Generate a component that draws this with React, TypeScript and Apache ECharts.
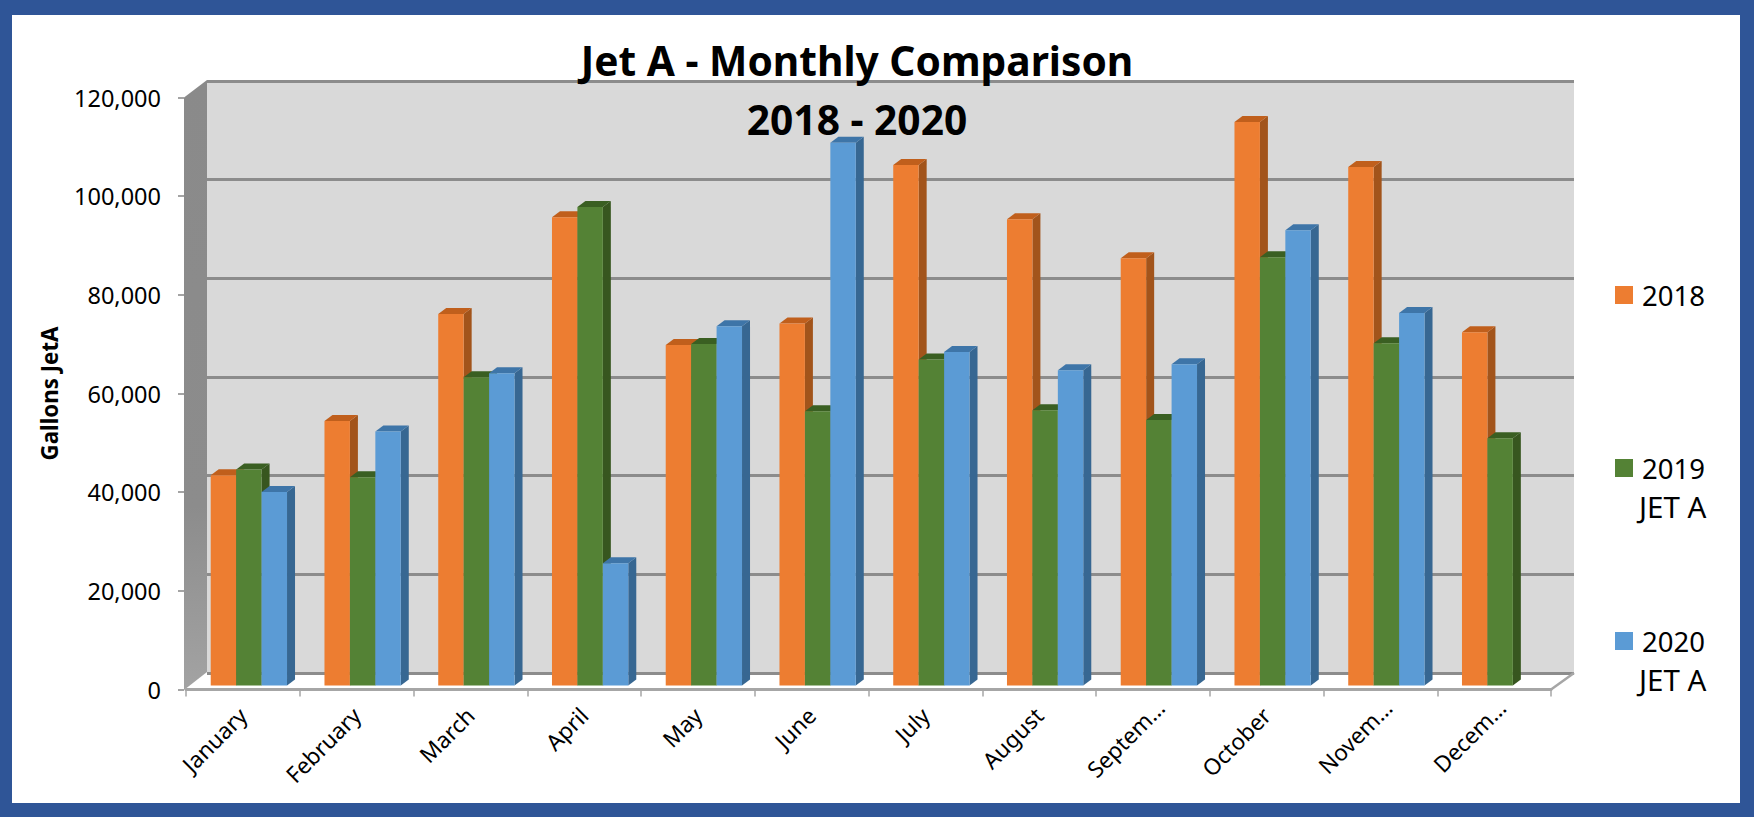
import React, { useEffect, useRef } from "react";
import * as echarts from "echarts";

const months = ["January", "February", "March", "April", "May", "June", "July", "August", "Septem…", "October", "Novem…", "Decem…"];
const truncated = ["Septem…", "Novem…", "Decem…"];
const jet2018 = [42600, 53600, 75300, 94900, 69000, 73400, 105500, 94500, 86600, 114200, 105100, 71600];
const jet2019 = [43800, 42200, 62500, 97000, 69200, 55600, 66100, 55800, 53800, 86800, 69400, 50100];
const jet2020 = [39200, 51500, 63300, 24800, 72800, 110000, 67600, 63900, 65100, 92300, 75500, null];
const yTicks = [0, 20000, 40000, 60000, 80000, 100000, 120000];

const FONT = "'Noto Sans', sans-serif";
const BLUE_FRAME = "#2f5597";
const GRID_LINE = "#8c8c8c";
const AXIS_GREY = "#a6a6a6";

const barSeries = (
  name: string,
  values: (number | null)[],
  index: number,
  front: string,
  side: string,
  top: string
) => ({
  type: "custom",
  name,
  xAxisIndex: 0,
  yAxisIndex: 0,
  z: 3 + index,
  silent: true,
  clip: false,
  itemStyle: { color: front },
  encode: { x: 0, y: 1 },
  data: values.map((v, i) => [i, v]).filter((d) => d[1] !== null),
  renderItem: (_p: any, api: any) => {
    const band = api.size([1, 0])[0];
    const base = api.coord([api.value(0), 0]);
    const tip = api.coord([api.value(0), api.value(1)]);
    const w = band * 0.2236;
    const dx = 8;
    const dy = 6;
    const planeX = 6;
    const planeY = -4;
    const x0 = base[0] + planeX + (index - 1.5) * w;
    const x1 = x0 + w;
    const yB = base[1] + planeY;
    const yT = tip[1] + planeY;
    return {
      type: "group",
      children: [
        { type: "polygon", shape: { points: [[x1, yB], [x1 + dx, yB - dy], [x1 + dx, yT - dy], [x1, yT]] }, style: { fill: side } },
        { type: "polygon", shape: { points: [[x0, yT], [x1, yT], [x1 + dx, yT - dy], [x0 + dx, yT - dy]] }, style: { fill: top } },
        { type: "rect", shape: { x: x0, y: yT, width: w, height: yB - yT }, style: { fill: front } },
      ],
    };
  },
});

export default function App() {
  const ref = useRef<HTMLDivElement>(null);
  useEffect(() => {
    const chart = echarts.init(ref.current!, undefined, { renderer: "svg" });
    chart.setOption({
      animation: false,
      backgroundColor: BLUE_FRAME,
      textStyle: { fontFamily: FONT },
      title: {
        text: "Jet A - Monthly Comparison\n2018 - 2020",
        left: 852,
        top: 25,
        textAlign: "center",
        z: 20,
        textStyle: { fontFamily: FONT, fontSize: 40.7, fontWeight: "bold", color: "#000", lineHeight: 59 },
      },
      legend: {
        orient: "vertical",
        left: 1615,
        top: 277,
        padding: 0,
        itemWidth: 18,
        itemHeight: 18,
        itemGap: 137,
        icon: "rect",
        data: ["2018", "2019", "2020"],
        textStyle: { fontFamily: FONT, fontSize: 27.5, color: "#000", lineHeight: 30, padding: [0, 0, 6, 4] },
      },
      graphic: [
        { type: "rect", z: -100, silent: true, shape: { x: 12, y: 15, width: 1728, height: 788 }, style: { fill: "#fff" } },
        {
          type: "polygon",
          z: -50,
          silent: true,
          shape: { points: [[184, 97.5], [207, 80], [207, 672], [184, 690]] },
          style: {
            fill: new echarts.graphic.LinearGradient(0, 0, 0, 1, [
              { offset: 0, color: "#8a8a8a" },
              { offset: 0.7, color: "#8c8c8c" },
              { offset: 1, color: "#a3a3a3" },
            ]),
          },
        },
        { type: "line", z: 1, silent: true, shape: { x1: 1551, y1: 689.5, x2: 1574, y2: 673 }, style: { stroke: AXIS_GREY, lineWidth: 2.5 } },
        { type: "text", z: 20, silent: true, x: 1639, y: 506, style: { text: "JET A", font: `29.5px ${FONT}`, fill: "#000", verticalAlign: "middle" } },
        { type: "text", z: 20, silent: true, x: 1639, y: 679, style: { text: "JET A", font: `29.5px ${FONT}`, fill: "#000", verticalAlign: "middle" } },
      ],
      grid: [
        { left: 186, right: 203, top: 97.5, bottom: 127.5, z: 2 },
        { left: 207, right: 180, top: 81, bottom: 144, show: true, backgroundColor: "#d9d9d9", borderWidth: 0, z: 0 },
      ],
      xAxis: [
        {
          type: "category",
          gridIndex: 0,
          data: months.map((m) =>
            truncated.includes(m) ? { value: m, textStyle: { padding: [20, -11, 0, 0] } } : m
          ),
          boundaryGap: true,
          axisLine: { show: true, lineStyle: { color: AXIS_GREY, width: 3 } },
          axisTick: { show: true, alignWithLabel: false, length: 7, lineStyle: { color: AXIS_GREY, width: 1.5 } },
          axisLabel: { interval: 0, rotate: 45, fontFamily: FONT, fontSize: 22.5, color: "#000", margin: 22, hideOverlap: false },
          splitLine: { show: false },
        },
        { type: "category", gridIndex: 1, data: months, show: false },
      ],
      yAxis: [
        {
          type: "value",
          gridIndex: 0,
          min: 0,
          max: 120000,
          interval: 20000,
          offset: 2,
          name: "Gallons JetA",
          nameLocation: "middle",
          nameGap: 124,
          nameTextStyle: { fontFamily: FONT, fontSize: 22.3, fontWeight: "bold", color: "#000" },
          axisLine: { show: false },
          axisTick: { show: true, length: 6, lineStyle: { color: "#868686", width: 1.5 } },
          axisLabel: {
            fontFamily: FONT,
            fontSize: 23.5,
            color: "#000",
            margin: 23,
            formatter: (v: number) => (yTicks.includes(v) ? v.toLocaleString("en-US") : ""),
          },
          splitLine: { show: false },
        },
        {
          type: "value",
          gridIndex: 1,
          min: 0,
          max: 120000,
          interval: 20000,
          axisLine: { show: false },
          axisTick: { show: false },
          axisLabel: { show: false },
          splitLine: { show: true, lineStyle: { color: GRID_LINE, width: 2.8 } },
        },
      ],
      series: [
        barSeries("2018", jet2018, 0, "#ed7d31", "#a2541b", "#c05f1c"),
        barSeries("2019", jet2019, 1, "#548235", "#37561f", "#3a5f22"),
        barSeries("2020", jet2020, 2, "#5b9bd5", "#376792", "#3e75a8"),
      ],
    });
    return () => chart.dispose();
  }, []);
  return <div ref={ref} style={{ position: "absolute", left: 0, top: 0, width: 1754, height: 817 }} />;
}
